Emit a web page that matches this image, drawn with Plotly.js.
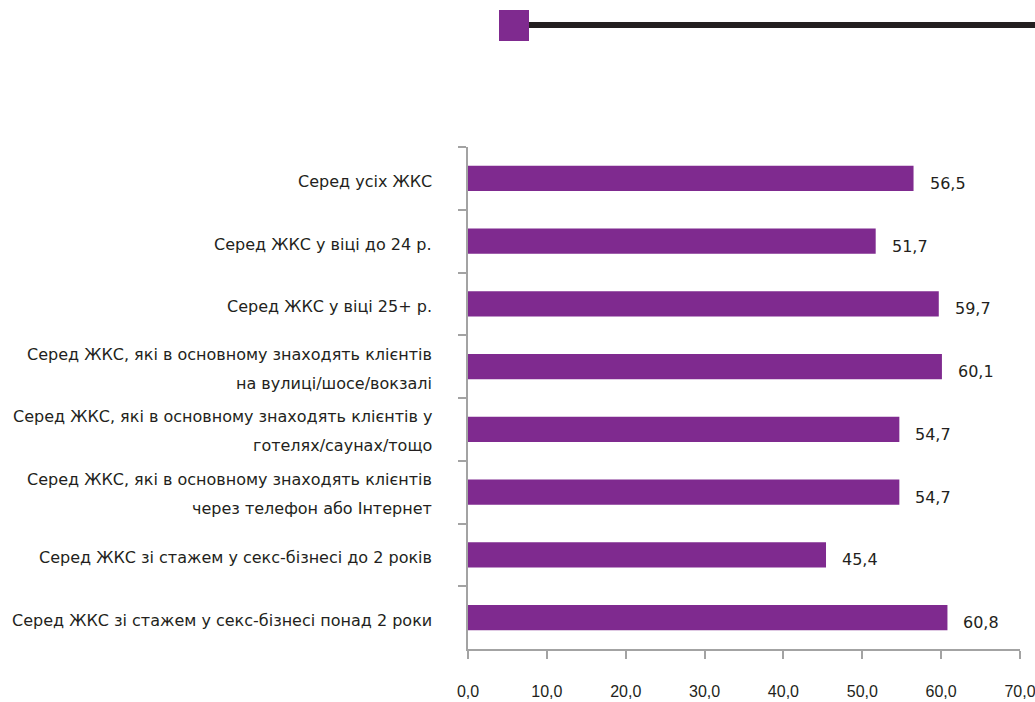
<!DOCTYPE html>
<html>
<head>
<meta charset="utf-8">
<script src="https://cdn.plot.ly/plotly-3.0.1.min.js"></script>
<style>html,body{margin:0;padding:0;background:#fff}#chart{width:1035px;height:702px}</style>
</head>
<body>
<div id="chart"></div>
<script>
const categoryLines = [
  ["Серед усіх ЖКС"],
  ["Серед ЖКС у віці до 24 р."],
  ["Серед ЖКС у віці 25+ р."],
  ["Серед ЖКС, які в основному знаходять клієнтів", "на вулиці/шосе/вокзалі"],
  ["Серед ЖКС, які в основному знаходять клієнтів у", "готелях/саунах/тощо"],
  ["Серед ЖКС, які в основному знаходять клієнтів", "через телефон або Інтернет"],
  ["Серед ЖКС зі стажем у секс-бізнесі до 2 років"],
  ["Серед ЖКС зі стажем у секс-бізнесі понад 2 роки"]
];
const categories = categoryLines.map(l => l.join(" "));
const values = [56.5, 51.7, 59.7, 60.1, 54.7, 54.7, 45.4, 60.8];
const xTicks = [0, 10, 20, 30, 40, 50, 60, 70];

const purple = "#7f2a8f";
const textColor = "#231f20";
const axisGray = "#a3a3a3";
const fontFamily = "DejaVu Sans, Liberation Sans, Arial, sans-serif";
const tickFamily = "Liberation Sans, Arial, sans-serif";

const trace = {
  type: "bar",
  orientation: "h",
  x: values,
  y: categories,
  marker: {color: purple},
  width: 0.4,
  hoverinfo: "skip"
};

const annotations = [];
values.forEach((v, i) => {
  annotations.push({
    x: v, y: categories[i], xref: "x", yref: "y",
    text: v.toFixed(1).replace(".", ","),
    showarrow: false, xanchor: "left", yanchor: "middle",
    xshift: 14, yshift: -5,
    font: {family: fontFamily, size: 16, color: textColor}
  });
});
categoryLines.forEach((lines, i) => {
  const n = lines.length;
  lines.forEach((line, j) => {
    const shift = n === 1 ? -3 : (j === 0 ? 12.5 : -16.5);
    annotations.push({
      x: 0, y: categories[i], xref: "paper", yref: "y",
      text: line, showarrow: false, xanchor: "right", yanchor: "middle",
      xshift: -34, yshift: shift,
      font: {family: fontFamily, size: 16, color: textColor}
    });
  });
});

const layout = {
  width: 1035, height: 702,
  margin: {l: 468, r: 15, t: 147, b: 53},
  paper_bgcolor: "#ffffff", plot_bgcolor: "#ffffff",
  separators: ", ",
  showlegend: false,
  font: {family: fontFamily, size: 16, color: textColor},
  xaxis: {
    range: [0, 70],
    tickvals: xTicks,
    tickformat: ".1f",
    showgrid: false, zeroline: false,
    showline: true, linecolor: axisGray, linewidth: 2,
    ticks: "outside", ticklen: 8, tickwidth: 2, tickcolor: axisGray,
    ticklabelstandoff: 19,
    ticklabeloverflow: "allow",
    tickfont: {family: tickFamily, size: 16, color: textColor},
    fixedrange: true
  },
  yaxis: {
    type: "category",
    categoryorder: "array",
    categoryarray: categories,
    autorange: "reversed",
    showticklabels: false,
    showgrid: false, zeroline: false,
    showline: true, linecolor: axisGray, linewidth: 2,
    ticks: "outside", ticklen: 8, tickwidth: 2, tickcolor: axisGray,
    tickson: "boundaries",
    fixedrange: true
  },
  annotations: annotations,
  shapes: [
    {type: "line", xref: "paper", yref: "paper",
     x0: (528 - 468) / 552, x1: (1035 - 468) / 552, y0: (702 - 53 - 25) / 502, y1: (702 - 53 - 25) / 502,
     line: {color: "#231f20", width: 6}},
    {type: "rect", xref: "paper", yref: "paper",
     x0: (499 - 468) / 552, x1: (529 - 468) / 552, y0: (702 - 53 - 41) / 502, y1: (702 - 53 - 10) / 502,
     fillcolor: purple, line: {width: 0}}
  ]
};

Plotly.newPlot("chart", [trace], layout, {displayModeBar: false, staticPlot: true});
</script>
</body>
</html>
